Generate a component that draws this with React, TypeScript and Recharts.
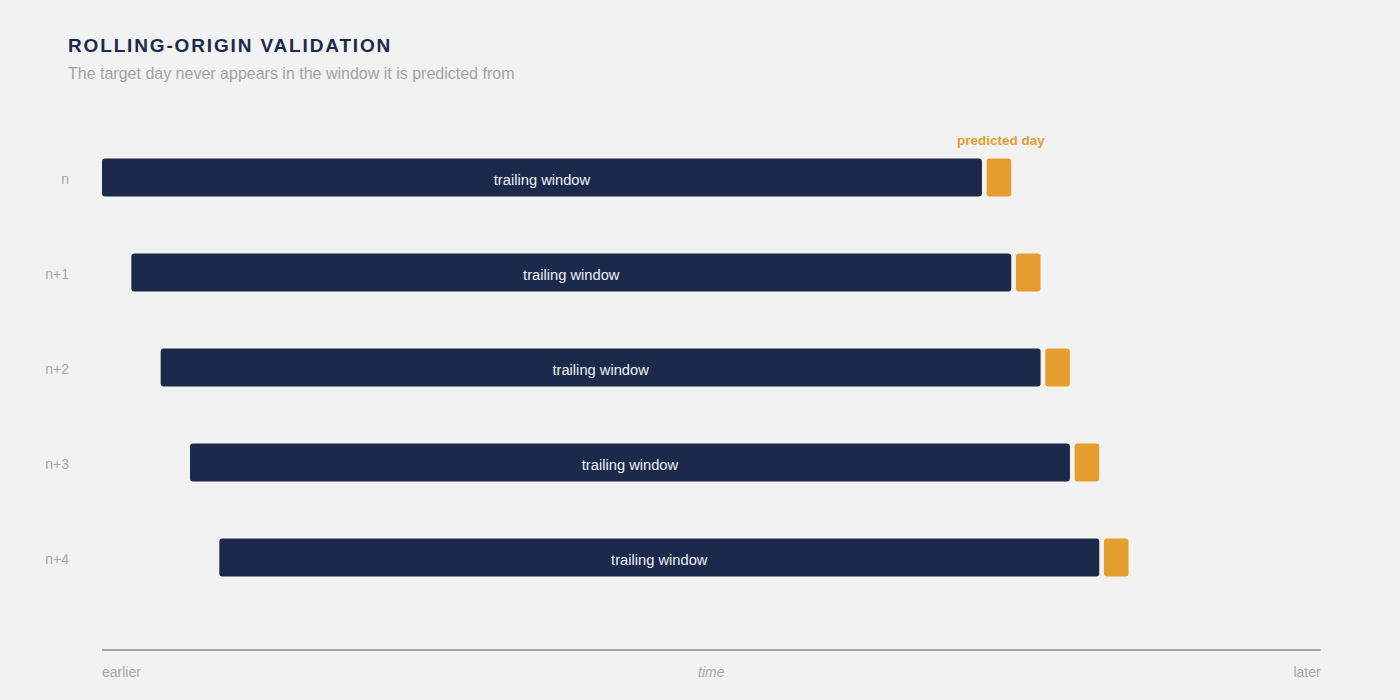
import React from "react";
import { BarChart, Bar, XAxis, YAxis, LabelList } from "recharts";

// one row per forecast origin; values are in days
const origins = ["n", "n+1", "n+2", "n+3", "n+4"];
const startOffsets = [0, 1, 2, 3, 4];
const windowDays = [30, 30, 30, 30, 30];
const gapDays = [0.16, 0.16, 0.16, 0.16, 0.16];
const targetDays = [0.84, 0.84, 0.84, 0.84, 0.84];
const axisMax = 41.55;
const axisTicks = [0, axisMax / 2, axisMax];
const axisTickLabels = ["earlier", "time", "later"];

const NAVY = "#1b2a4a";
const ORANGE = "#e59d2f";
const GREY = "#a6a6a6";
const FONT = "'Liberation Sans', Arial, Helvetica, sans-serif";

const data = origins.map((o, i) => ({
  origin: o,
  offset: startOffsets[i],
  window: windowDays[i],
  gap: gapDays[i],
  target: targetDays[i],
}));

function TimeTick(props: any) {
  const { x, y, index } = props;
  const anchor = index === 0 ? "start" : index === axisTicks.length - 1 ? "end" : "middle";
  return (
    <text
      x={x}
      y={y + 19}
      textAnchor={anchor}
      fill={GREY}
      fontSize={14}
      fontStyle={index === 1 ? "italic" : "normal"}
      fontFamily={FONT}
    >
      {axisTickLabels[index]}
    </text>
  );
}

function OriginTick(props: any) {
  const { x, y, payload } = props;
  return (
    <text x={x - 25} y={y + 7} textAnchor="end" fill={GREY} fontSize={14} fontFamily={FONT}>
      {payload.value}
    </text>
  );
}

function PredictedLabel(props: any) {
  const { x, y, width, index } = props;
  if (index !== 0) return null;
  return (
    <text
      x={x + width / 2 + 2}
      y={y - 14}
      textAnchor="middle"
      fill={ORANGE}
      fontSize={13.5}
      fontWeight="bold"
      fontFamily={FONT}
    >
      predicted day
    </text>
  );
}

export default function App() {
  return (
    <div
      style={{
        position: "absolute",
        left: 0,
        top: 0,
        width: 1400,
        height: 700,
        background: "#f2f2f2",
        fontFamily: FONT,
        overflow: "hidden",
      }}
    >
      <div
        style={{
          position: "absolute",
          left: 68,
          top: 35,
          fontSize: 19,
          fontWeight: "bold",
          letterSpacing: 1.85,
          color: NAVY,
        }}
      >
        ROLLING-ORIGIN VALIDATION
      </div>
      <div style={{ position: "absolute", left: 68, top: 65, fontSize: 16, color: "#a3a3a3" }}>
        The target day never appears in the window it is predicted from
      </div>
      <div style={{ position: "absolute", left: 0, top: 0 }}>
        <BarChart
          width={1400}
          height={700}
          data={data}
          layout="vertical"
          margin={{ top: 129.5, right: 79.3, bottom: 0, left: 0 }}
          barSize={38}
        >
          <XAxis
            type="number"
            domain={[0, axisMax]}
            ticks={axisTicks}
            interval={0}
            height={50}
            axisLine={{ stroke: GREY, strokeWidth: 2 }}
            tickLine={false}
            tick={<TimeTick />}
          />
          <YAxis
            type="category"
            dataKey="origin"
            width={102}
            axisLine={false}
            tickLine={false}
            padding={{ top: 0, bottom: 45.5 }}
            tick={<OriginTick />}
          />
          <Bar dataKey="offset" stackId="a" fill="transparent" isAnimationActive={false} />
          <Bar dataKey="window" stackId="a" fill={NAVY} radius={3} isAnimationActive={false}>
            <LabelList
              position="center"
              content={(p: any) => (
                <text
                  x={p.x + p.width / 2}
                  y={p.y + p.height / 2 + 7}
                  textAnchor="middle"
                  fill="#eef1f6"
                  fontSize={14.7}
                  fontFamily={FONT}
                >
                  trailing window
                </text>
              )}
            />
          </Bar>
          <Bar dataKey="gap" stackId="a" fill="transparent" isAnimationActive={false} />
          <Bar dataKey="target" stackId="a" fill={ORANGE} radius={3} isAnimationActive={false}>
            <LabelList content={<PredictedLabel />} />
          </Bar>
        </BarChart>
      </div>
    </div>
  );
}
